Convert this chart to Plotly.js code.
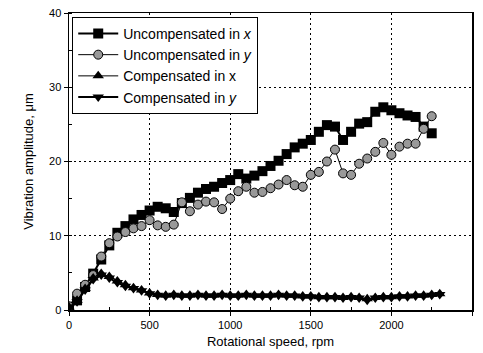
<!DOCTYPE html>
<html>
<head>
<meta charset="utf-8">
<script src="https://cdn.plot.ly/plotly-3.0.1.min.js"></script>
<style>html,body{margin:0;padding:0;background:#fff;}#chart{width:483px;height:353px;}</style>
</head>
<body>
<div id="chart"></div>
<script>
// Rotational speed (rpm) for uncompensated series
const rpmUncomp = [0,50,100,150,200,250,300,350,400,450,500,550,600,650,700,750,800,850,900,950,1000,1050,1100,1150,1200,1250,1300,1350,1400,1450,1500,1550,1600,1650,1700,1750,1800,1850,1900,1950,2000,2050,2100,2150,2200,2250];
const uncompX = [0.4,1.3,3.1,4.9,6.8,8.7,10.4,11.3,12.2,12.8,13.4,13.9,13.7,13.2,14.4,15.1,15.8,16.3,16.6,17.1,17.5,18.3,17.7,18.1,18.7,19.4,20.1,21.0,21.9,22.4,22.9,24.0,24.9,24.7,22.9,24.0,25.1,25.3,26.7,27.3,26.9,26.5,26.2,26.0,24.7,23.8];
const uncompY = [0.5,2.2,3.4,4.7,7.2,9.0,9.9,10.5,11.0,11.3,12.1,11.4,11.2,11.5,14.5,13.3,14.2,14.6,14.5,13.6,15.0,16.0,16.6,15.8,15.9,16.4,16.9,17.5,16.8,16.6,18.2,18.6,20.0,21.6,18.4,18.2,19.7,20.4,21.3,22.5,20.9,22.0,22.4,22.4,24.4,26.1];
// Rotational speed (rpm) for compensated series
const rpmComp = [0,50,100,150,200,250,300,350,400,450,500,550,600,650,700,750,800,850,900,950,1000,1050,1100,1150,1200,1250,1300,1350,1400,1450,1500,1550,1600,1650,1700,1750,1800,1850,1900,1950,2000,2050,2100,2150,2200,2250,2300];
const compX = [0.4,1.3,2.9,4.3,4.9,4.5,3.9,3.4,3.0,2.7,2.3,2.1,2.0,2.1,2.0,2.0,2.1,2.0,2.0,2.1,2.0,2.0,2.1,2.0,2.0,2.0,2.1,2.0,2.0,1.9,1.9,1.8,1.8,1.8,1.7,1.8,1.7,1.5,1.7,1.8,1.8,1.9,1.9,2.0,2.0,2.1,2.2];
const compY = [0.3,1.1,2.7,4.1,4.7,4.3,3.7,3.2,2.9,2.6,2.2,2.0,1.9,2.0,1.9,1.9,2.0,1.9,1.9,2.0,1.9,1.9,2.0,1.9,1.9,1.9,2.0,1.9,1.9,1.8,1.8,1.7,1.7,1.7,1.6,1.7,1.6,1.3,1.6,1.7,1.7,1.8,1.8,1.9,1.9,2.0,2.1];

const traces = [
  {x: rpmUncomp, y: uncompX, name: 'Uncompensated in <i>x</i>', mode: 'lines+markers',
   line: {color: '#000', width: 2}, marker: {symbol: 'square', size: 10, color: '#000'}},
  {x: rpmUncomp, y: uncompY, name: 'Uncompensated in <i>y</i>', mode: 'lines+markers',
   line: {color: '#000', width: 1}, marker: {symbol: 'circle', size: 9, color: '#999', line: {color: '#000', width: 1}}},
  {x: rpmComp, y: compX, name: 'Compensated in x', mode: 'lines+markers',
   line: {color: '#000', width: 1}, marker: {symbol: 'triangle-up', size: 10, color: '#000'}},
  {x: rpmComp, y: compY, name: 'Compensated in <i>y</i>', mode: 'lines+markers',
   line: {color: '#000', width: 2}, marker: {symbol: 'triangle-down', size: 10, color: '#000'}}
];

const layout = {
  width: 483, height: 353,
  margin: {l: 69, r: 11, t: 13, b: 43},
  paper_bgcolor: '#fff', plot_bgcolor: '#fff',
  font: {family: 'Liberation Sans, Arial, sans-serif', color: '#000', size: 11},
  showlegend: true,
  legend: {x: 0.008, y: 0.987, xanchor: 'left', yanchor: 'top', bgcolor: '#fff',
    bordercolor: '#000', borderwidth: 1, font: {size: 14}, itemwidth: 40, tracegroupgap: 0},
  xaxis: {range: [0, 2500], tickvals: [0,500,1000,1500,2000,2500], ticks: 'outside', ticklen: 4,
    tickcolor: '#000', showline: true, linecolor: '#000', linewidth: 1.5, mirror: true,
    showgrid: true, gridcolor: '#000', griddash: '2px,3px', gridwidth: 1, zeroline: false,
    minor: {dtick: 250, ticks: 'inside', ticklen: 3, tickcolor: '#000', showgrid: false},
    title: {text: 'Rotational speed, rpm', font: {size: 13}, standoff: 7}},
  yaxis: {range: [0, 40], tickvals: [0,10,20,30,40], ticks: 'outside', ticklen: 4,
    tickcolor: '#000', showline: true, linecolor: '#000', linewidth: 1.5, mirror: true,
    showgrid: true, gridcolor: '#000', griddash: '2px,3px', gridwidth: 1, zeroline: false,
    minor: {dtick: 5, ticks: 'inside', ticklen: 3, tickcolor: '#000', showgrid: false},
    title: {text: 'Vibration amplitude, μm', font: {size: 13}, standoff: 12}}
};

Plotly.newPlot('chart', traces, layout, {displayModeBar: false, staticPlot: true});
</script>
</body>
</html>
